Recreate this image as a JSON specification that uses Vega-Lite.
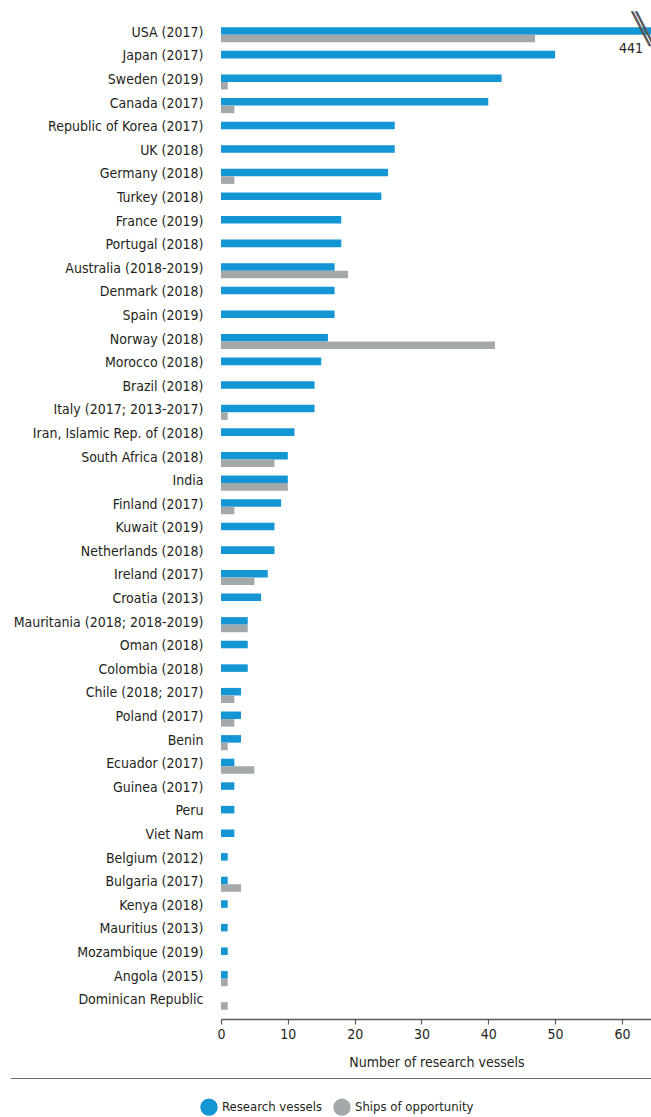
{
  "$schema": "https://vega.github.io/schema/vega-lite/v6.json",
  "background": "white",
  "padding": {"left": 10, "top": 14, "right": 0, "bottom": 0},
  "resolve": {"scale": {"x": "independent"}},
  "config": {
    "view": {"stroke": null},
    "font": "DejaVu Sans Condensed, Roboto, sans-serif",
    "concat": {"spacing": 8},
    "axis": {"labelFont": "DejaVu Sans Condensed, Roboto, sans-serif", "titleFont": "DejaVu Sans Condensed, Roboto, sans-serif"},
    "legend": {"labelFont": "DejaVu Sans Condensed, Roboto, sans-serif"}
  },
  "datasets": {
    "vessels": [
      {"country": "USA (2017)", "series": "Research vessels", "value": 441},
      {"country": "USA (2017)", "series": "Ships of opportunity", "value": 47},
      {"country": "Japan (2017)", "series": "Research vessels", "value": 50},
      {"country": "Sweden (2019)", "series": "Research vessels", "value": 42},
      {"country": "Sweden (2019)", "series": "Ships of opportunity", "value": 1},
      {"country": "Canada (2017)", "series": "Research vessels", "value": 40},
      {"country": "Canada (2017)", "series": "Ships of opportunity", "value": 2},
      {"country": "Republic of Korea (2017)", "series": "Research vessels", "value": 26},
      {"country": "UK (2018)", "series": "Research vessels", "value": 26},
      {"country": "Germany (2018)", "series": "Research vessels", "value": 25},
      {"country": "Germany (2018)", "series": "Ships of opportunity", "value": 2},
      {"country": "Turkey (2018)", "series": "Research vessels", "value": 24},
      {"country": "France (2019)", "series": "Research vessels", "value": 18},
      {"country": "Portugal (2018)", "series": "Research vessels", "value": 18},
      {"country": "Australia (2018-2019)", "series": "Research vessels", "value": 17},
      {"country": "Australia (2018-2019)", "series": "Ships of opportunity", "value": 19},
      {"country": "Denmark (2018)", "series": "Research vessels", "value": 17},
      {"country": "Spain (2019)", "series": "Research vessels", "value": 17},
      {"country": "Norway (2018)", "series": "Research vessels", "value": 16},
      {"country": "Norway (2018)", "series": "Ships of opportunity", "value": 41},
      {"country": "Morocco (2018)", "series": "Research vessels", "value": 15},
      {"country": "Brazil (2018)", "series": "Research vessels", "value": 14},
      {"country": "Italy (2017; 2013-2017)", "series": "Research vessels", "value": 14},
      {"country": "Italy (2017; 2013-2017)", "series": "Ships of opportunity", "value": 1},
      {"country": "Iran, Islamic Rep. of (2018)", "series": "Research vessels", "value": 11},
      {"country": "South Africa (2018)", "series": "Research vessels", "value": 10},
      {"country": "South Africa (2018)", "series": "Ships of opportunity", "value": 8},
      {"country": "India", "series": "Research vessels", "value": 10},
      {"country": "India", "series": "Ships of opportunity", "value": 10},
      {"country": "Finland (2017)", "series": "Research vessels", "value": 9},
      {"country": "Finland (2017)", "series": "Ships of opportunity", "value": 2},
      {"country": "Kuwait (2019)", "series": "Research vessels", "value": 8},
      {"country": "Netherlands (2018)", "series": "Research vessels", "value": 8},
      {"country": "Ireland (2017)", "series": "Research vessels", "value": 7},
      {"country": "Ireland (2017)", "series": "Ships of opportunity", "value": 5},
      {"country": "Croatia (2013)", "series": "Research vessels", "value": 6},
      {"country": "Mauritania (2018; 2018-2019)", "series": "Research vessels", "value": 4},
      {"country": "Mauritania (2018; 2018-2019)", "series": "Ships of opportunity", "value": 4},
      {"country": "Oman (2018)", "series": "Research vessels", "value": 4},
      {"country": "Colombia (2018)", "series": "Research vessels", "value": 4},
      {"country": "Chile (2018; 2017)", "series": "Research vessels", "value": 3},
      {"country": "Chile (2018; 2017)", "series": "Ships of opportunity", "value": 2},
      {"country": "Poland (2017)", "series": "Research vessels", "value": 3},
      {"country": "Poland (2017)", "series": "Ships of opportunity", "value": 2},
      {"country": "Benin", "series": "Research vessels", "value": 3},
      {"country": "Benin", "series": "Ships of opportunity", "value": 1},
      {"country": "Ecuador (2017)", "series": "Research vessels", "value": 2},
      {"country": "Ecuador (2017)", "series": "Ships of opportunity", "value": 5},
      {"country": "Guinea (2017)", "series": "Research vessels", "value": 2},
      {"country": "Peru", "series": "Research vessels", "value": 2},
      {"country": "Viet Nam", "series": "Research vessels", "value": 2},
      {"country": "Belgium (2012)", "series": "Research vessels", "value": 1},
      {"country": "Bulgaria (2017)", "series": "Research vessels", "value": 1},
      {"country": "Bulgaria (2017)", "series": "Ships of opportunity", "value": 3},
      {"country": "Kenya (2018)", "series": "Research vessels", "value": 1},
      {"country": "Mauritius (2013)", "series": "Research vessels", "value": 1},
      {"country": "Mozambique (2019)", "series": "Research vessels", "value": 1},
      {"country": "Angola (2015)", "series": "Research vessels", "value": 1},
      {"country": "Angola (2015)", "series": "Ships of opportunity", "value": 1},
      {"country": "Dominican Republic", "series": "Ships of opportunity", "value": 1}
    ]
  },
  "vconcat": [
    {
      "width": 431,
      "height": 991,
      "data": {"name": "vessels"},
      "layer": [
        {
          "mark": {"type": "bar"},
          "encoding": {
            "y": {
              "field": "country", "type": "nominal", "sort": null,
              "scale": {"paddingInner": 0.36, "paddingOuter": 0.18},
              "axis": {"title": null, "ticks": false, "domain": false, "labelPadding": 18, "labelFontSize": 14, "labelColor": "#231f20", "labelOffset": -2, "labelLimit": 300}
            },
            "yOffset": {"field": "series", "type": "nominal", "sort": ["Research vessels", "Ships of opportunity"], "scale": {"paddingInner": 0, "paddingOuter": 0}},
            "x": {
              "field": "value", "type": "quantitative",
              "scale": {"domain": [0, 64.5], "clamp": true, "nice": false, "zero": true},
              "axis": {
                "values": [0, 10, 20, 30, 40, 50, 60], "title": "Number of research vessels", "offset": 5, "grid": false,
                "domainColor": "#58595b", "domainWidth": 1.5, "tickColor": "#58595b", "tickSize": 5, "tickWidth": 1.2,
                "labelFontSize": 14, "labelColor": "#231f20", "labelPadding": 3, "labelFlush": false,
                "titleFontSize": 14, "titleFontWeight": "normal", "titleColor": "#231f20", "titlePadding": 14
              }
            },
            "color": {
              "field": "series", "type": "nominal",
              "scale": {"domain": ["Research vessels", "Ships of opportunity"], "range": ["#1596d4", "#a3a8ab"]},
              "legend": {"title": null, "orient": "none", "legendX": -21, "legendY": 1075, "direction": "horizontal", "symbolType": "circle", "symbolSize": 300, "symbolStrokeWidth": 0, "labelFontSize": 13, "labelColor": "#231f20", "columnPadding": 10, "labelOffset": 4}
            }
          }
        },
        {
          "transform": [{"filter": "datum.country === 'USA (2017)' && datum.series === 'Research vessels'"}],
          "mark": {"type": "text", "align": "right", "baseline": "middle", "dx": -9, "dy": 14, "fontSize": 14, "color": "#231f20"},
          "encoding": {
            "y": {"field": "country", "type": "nominal", "sort": null},
            "x": {"field": "value", "type": "quantitative"},
            "text": {"field": "value", "type": "quantitative"}
          }
        },
        {
          "transform": [{"filter": "datum.country === 'USA (2017)' && datum.series === 'Research vessels'"}],
          "mark": {"type": "text", "text": "╲", "align": "center", "baseline": "middle", "dx": -11, "dy": -5, "fontSize": 30, "font": "DejaVu Sans", "color": "#58595b"},
          "encoding": {
            "y": {"field": "country", "type": "nominal", "sort": null},
            "x": {"field": "value", "type": "quantitative"}
          }
        },
        {
          "transform": [{"filter": "datum.country === 'USA (2017)' && datum.series === 'Research vessels'"}],
          "mark": {"type": "text", "text": "╲", "align": "center", "baseline": "middle", "dx": -7, "dy": -5, "fontSize": 30, "font": "DejaVu Sans", "color": "#58595b"},
          "encoding": {
            "y": {"field": "country", "type": "nominal", "sort": null},
            "x": {"field": "value", "type": "quantitative"}
          }
        }
      ]
    },
    {
      "width": 431,
      "height": 1,
      "data": {"values": [{"a": 1}]},
      "mark": {"type": "rule", "color": "#6d6e71", "strokeWidth": 1.2},
      "encoding": {
        "x": {"datum": -31.45, "type": "quantitative", "scale": {"domain": [0, 64.5], "nice": false, "zero": false, "clamp": false}, "axis": null},
        "x2": {"datum": 64.5}
      }
    }
  ]
}
